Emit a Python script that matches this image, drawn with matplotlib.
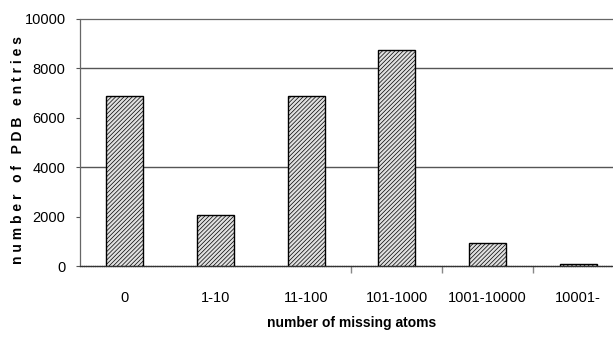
import matplotlib
matplotlib.use('Agg')
import matplotlib.pyplot as plt
import numpy as np

categories = ['0', '1-10', '11-100', '101-1000', '1001-10000', '10001-']
entries = [6900, 2060, 6870, 8750, 930, 70]
y_ticks = [0, 2000, 4000, 6000, 8000, 10000]

plt.rcParams['font.family'] = ['Liberation Sans', 'DejaVu Sans']
plt.rcParams['hatch.color'] = '#444444'
plt.rcParams['hatch.linewidth'] = 0.5

fig = plt.figure(figsize=(6.13, 3.39), dpi=100)
ax = fig.add_axes([79.5 / 613, 73 / 339, 544 / 613, 247 / 339])

x = np.arange(len(categories))
ax.bar(x, entries, width=0.41, color='#e0e0e0', edgecolor='black',
       linewidth=1.0, hatch='////////', zorder=3)

ax.set_xlim(-0.5, len(categories) - 0.5)
ax.set_ylim(0, 10000)
ax.set_yticks(y_ticks)
ax.set_yticklabels([str(v) for v in y_ticks], fontsize=10.5)
ax.set_xticks(x)
ax.set_xticklabels(categories, fontsize=10.5)
ax.tick_params(axis='x', length=0, pad=18)
ax.tick_params(axis='y', length=3, width=0.8, color='#555555', pad=7)
ax.set_xticks([2.5, 3.5, 4.5], minor=True)
ax.tick_params(axis='x', which='minor', length=5, width=1, color='#888888')

for v in [4000, 8000]:
    ax.axhline(v, color='#555555', linewidth=1.0, zorder=1)

for side in ['top', 'left']:
    ax.spines[side].set_linestyle((0, (1, 1)))
    ax.spines[side].set_color('#666666')
    ax.spines[side].set_linewidth(0.9)
ax.spines['bottom'].set_linestyle((0, (1, 0.6)))
ax.spines['bottom'].set_color('#333333')
ax.spines['bottom'].set_linewidth(1.0)
ax.spines['right'].set_visible(False)

ax.set_xlabel('number of missing atoms', fontsize=10, fontweight='bold', labelpad=8)
fig.text(18 / 613, 1 - 150 / 339, 'n u m b e r   o f   P D B   e n t r i e s',
         fontsize=10, fontweight='bold', rotation=90, ha='center', va='center')

fig.savefig('out.png', dpi=100)
